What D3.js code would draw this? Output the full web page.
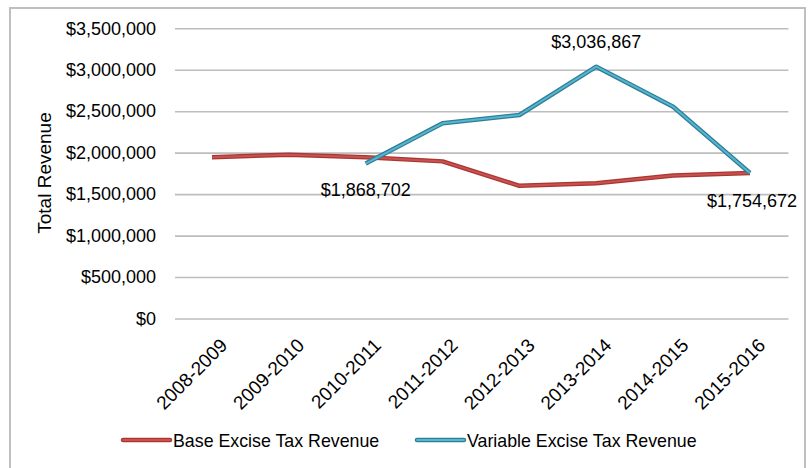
<!DOCTYPE html>
<html>
<head>
<meta charset="utf-8">
<script src="https://cdn.jsdelivr.net/npm/d3@7"></script>
<style>
  body { margin: 0; background: #fff; }
  svg { font-family: "Liberation Sans", Arial, sans-serif; }
</style>
</head>
<body>
<svg id="chart" width="810" height="468"></svg>
<script>
// chart values
const categories = ["2008-2009", "2009-2010", "2010-2011", "2011-2012",
  "2012-2013", "2013-2014", "2014-2015", "2015-2016"]
const baseRevenue = [1945000, 1975000, 1945000, 1895000, 1600000, 1630000, 1725000, 1755000]
const variableRevenue = [null, null, 1868702, 2354000, 2454000, 3036867, 2554000, 1754672]
const labelledPoints = [2, 5, 7]
const yTicks = [0, 500000, 1000000, 1500000, 2000000, 2500000, 3000000, 3500000]
const seriesNames = ["Base Excise Tax Revenue", "Variable Excise Tax Revenue"]

const svg = d3.select("#chart")
const width = 810
const height = 468

// outer frame
svg.append("rect")
  .attr("x", 10).attr("y", 8)
  .attr("width", 795).attr("height", 470)
  .attr("fill", "#fff")
  .attr("stroke", "#bfbfbf")
  .attr("stroke-width", 2)

const x = d3.scalePoint()
  .domain(categories)
  .range([173.6, 788.4])
  .padding(0.5)

const y = d3.scaleLinear()
  .domain([0, 3500000])
  .range([318.5, 28.3])

const fmt = d3.format("$,.0f")

// gridlines + y labels
const yAxis = d3.axisLeft(y)
  .tickValues(yTicks)
  .tickFormat(fmt)
  .tickSize(-(788.4 - 175))
  .tickPadding(19)

const yG = svg.append("g")
  .attr("transform", "translate(175,0)")
  .call(yAxis)
yG.select(".domain").remove()
yG.selectAll(".tick line")
  .attr("stroke", "#bdbdbd")
  .attr("stroke-width", 1.6)
yG.selectAll(".tick text")
  .attr("font-size", "18px")
  .attr("fill", "#000")

// x labels (rotated)
const xAxis = d3.axisBottom(x).tickSize(0).tickPadding(0)
const xG = svg.append("g")
  .attr("transform", "translate(0,318.5)")
  .call(xAxis)
xG.select(".domain").remove()
xG.selectAll(".tick text")
  .attr("font-size", "19px")
  .attr("fill", "#000")
  .attr("text-anchor", "end")
  .attr("dy", null)
  .attr("y", 0)
  .attr("transform", "translate(16,28) rotate(-45)")

// y title
svg.append("text")
  .attr("transform", "translate(51,173) rotate(-90)")
  .attr("text-anchor", "middle")
  .attr("font-size", "19px")
  .attr("fill", "#000")
  .text("Total Revenue")

const line = d3.line()
  .defined(d => d != null)
  .x((d, i) => x(categories[i]))
  .y(d => y(d))

const colors = [
  { outer: "#a83633", inner: "#c9524f" },
  { outer: "#2f7e98", inner: "#56b5cf" }
]

const seriesData = [baseRevenue, variableRevenue]
seriesData.forEach((vals, s) => {
  svg.append("path")
    .attr("d", line(vals))
    .attr("fill", "none")
    .attr("stroke", colors[s].outer)
    .attr("stroke-width", 4.5)
    .attr("stroke-linejoin", "round")
  svg.append("path")
    .attr("d", line(vals))
    .attr("fill", "none")
    .attr("stroke", colors[s].inner)
    .attr("stroke-width", 2)
    .attr("stroke-linejoin", "round")
})

// data labels on the variable series
const labelOffsets = { 2: 32, 5: -19, 7: 34 }
svg.append("g").selectAll("text")
  .data(labelledPoints)
  .enter()
  .append("text")
  .attr("x", i => x(categories[i]) + (i == 7 ? 2 : 0))
  .attr("y", i => y(variableRevenue[i]) + labelOffsets[i])
  .attr("text-anchor", "middle")
  .attr("font-size", "18px")
  .attr("fill", "#000")
  .text(i => fmt(variableRevenue[i]))

// legend
const legendX = [123, 417]
const legend = svg.append("g").selectAll("g")
  .data(seriesNames)
  .enter()
  .append("g")
  .attr("transform", (d, i) => `translate(${legendX[i]},440)`)

legend.append("line")
  .attr("x1", 0).attr("x2", 47)
  .attr("stroke", (d, i) => colors[i].outer)
  .attr("stroke-width", 4.5)
  .attr("stroke-linecap", "round")
legend.append("line")
  .attr("x1", 0).attr("x2", 47)
  .attr("stroke", (d, i) => colors[i].inner)
  .attr("stroke-width", 2)
  .attr("stroke-linecap", "round")
legend.append("text")
  .attr("x", 50)
  .attr("y", 6.5)
  .attr("font-size", "17.8px")
  .attr("fill", "#000")
  .text(d => d)
</script>
</body>
</html>
